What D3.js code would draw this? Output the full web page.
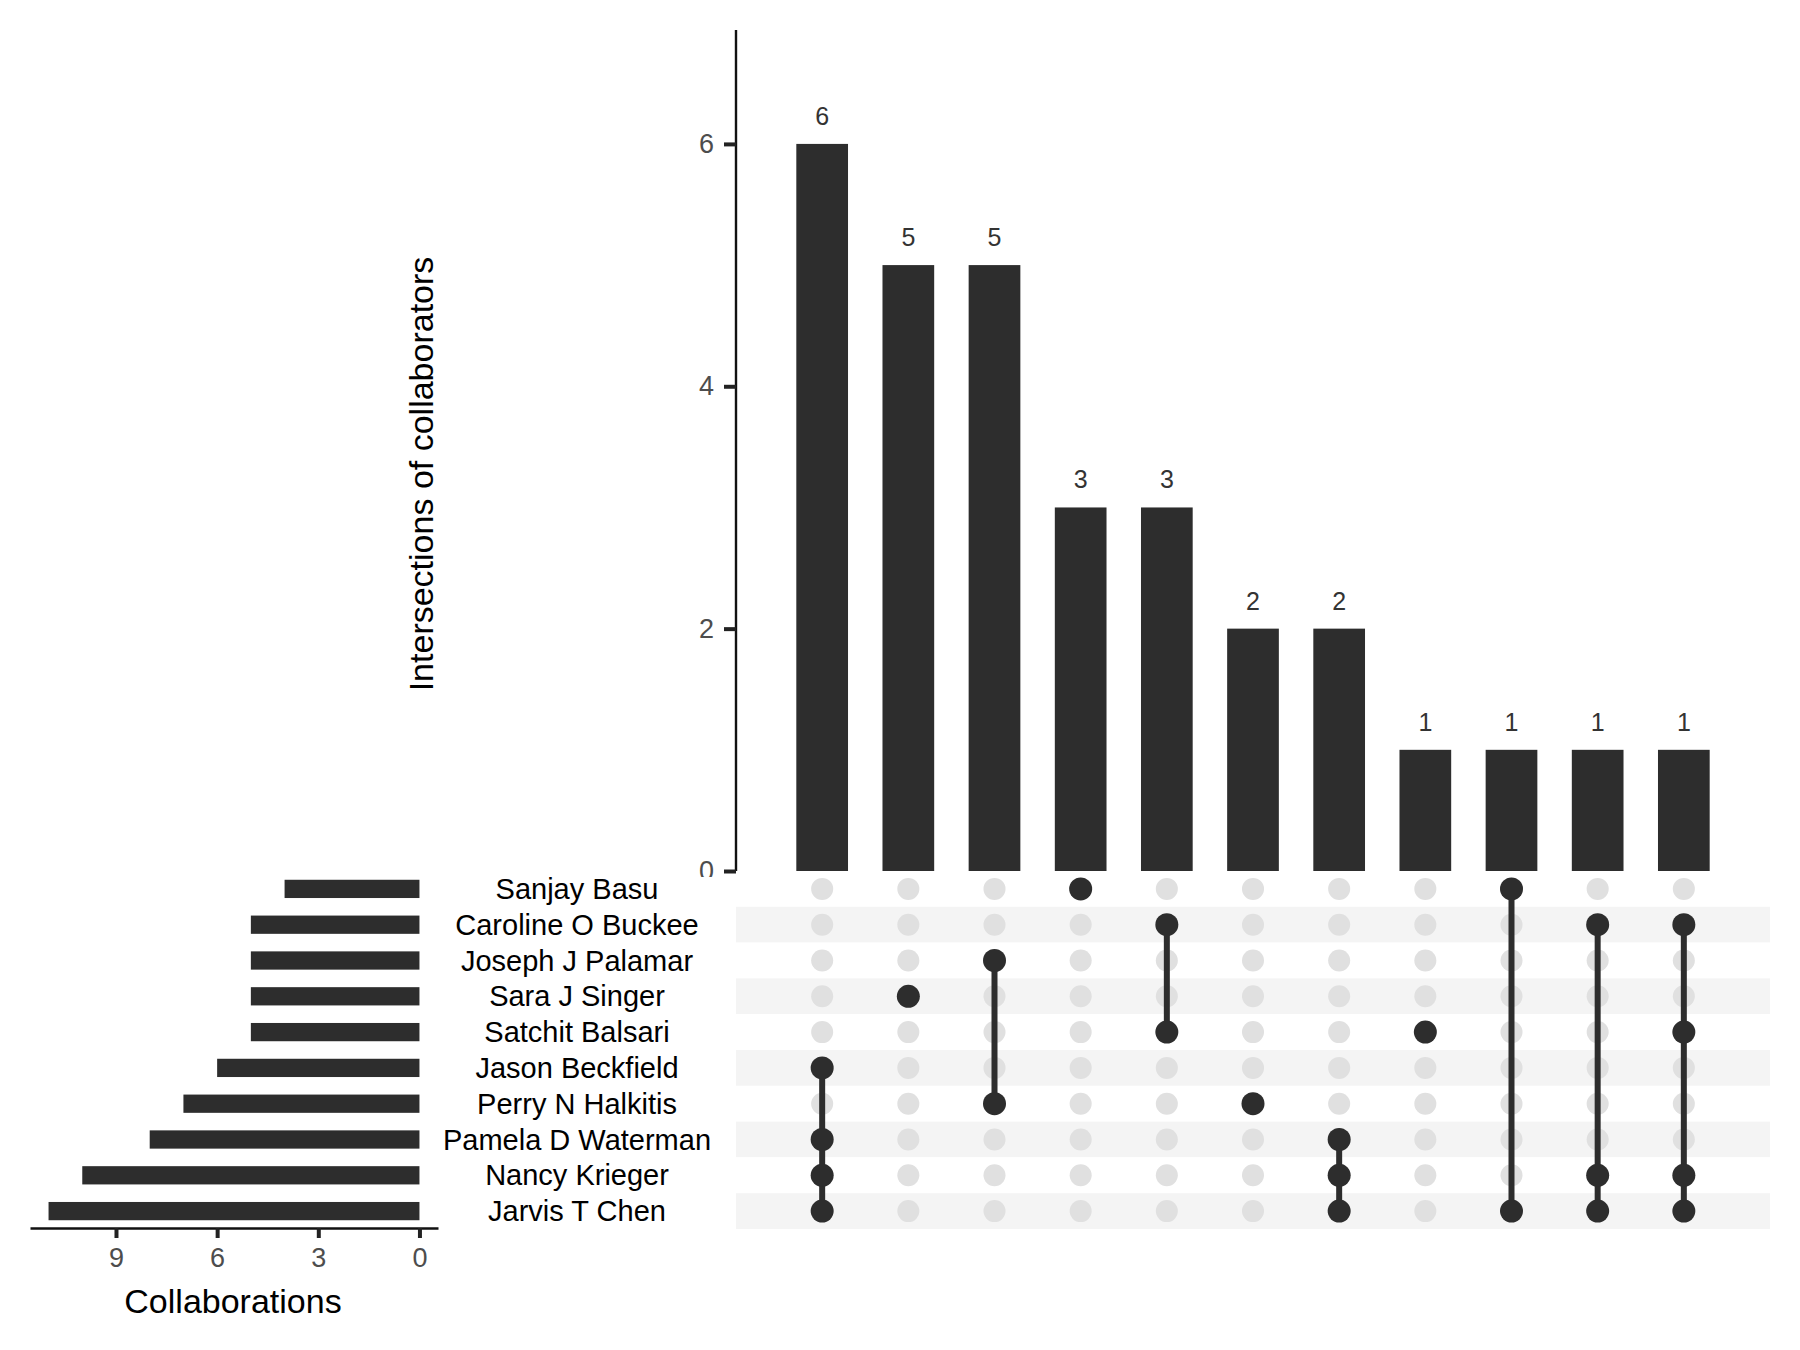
<!DOCTYPE html>
<html>
<head>
<meta charset="utf-8">
<script src="https://cdn.jsdelivr.net/npm/d3@7/dist/d3.min.js"></script>
<style>
  body { margin: 0; background: #fff; }
  svg text { font-family: "Liberation Sans", Arial, Helvetica, sans-serif; }
</style>
</head>
<body>
<svg id="chart" width="1800" height="1350"></svg>
<script>
// sets (rows of the matrix, top to bottom) and their sizes
const people = [
  "Sanjay Basu", "Caroline O Buckee", "Joseph J Palamar", "Sara J Singer",
  "Satchit Balsari", "Jason Beckfield", "Perry N Halkitis",
  "Pamela D Waterman", "Nancy Krieger", "Jarvis T Chen"
];
const collaborations = [4, 5, 5, 5, 5, 6, 7, 8, 10, 11];

// intersections (columns, left to right)
const intersectionSizes = [6, 5, 5, 3, 3, 2, 2, 1, 1, 1, 1];
const intersectionMembers = [
  ["Jason Beckfield", "Pamela D Waterman", "Nancy Krieger", "Jarvis T Chen"],
  ["Sara J Singer"],
  ["Joseph J Palamar", "Perry N Halkitis"],
  ["Sanjay Basu"],
  ["Caroline O Buckee", "Satchit Balsari"],
  ["Perry N Halkitis"],
  ["Pamela D Waterman", "Nancy Krieger", "Jarvis T Chen"],
  ["Satchit Balsari"],
  ["Sanjay Basu", "Jarvis T Chen"],
  ["Caroline O Buckee", "Nancy Krieger", "Jarvis T Chen"],
  ["Caroline O Buckee", "Satchit Balsari", "Nancy Krieger", "Jarvis T Chen"]
];

const topTicks = [0, 2, 4, 6];
const leftTicks = [0, 3, 6, 9];

const dark = "#2d2d2d";

const svg = d3.select("#chart");

// scales
const x = d3.scaleLinear().domain([0, intersectionSizes.length + 1]).range([736, 1770]);
const unit = x(1) - x(0);
const yTop = d3.scaleLinear().domain([0, 6.94]).range([871, 30]);
const yRow = d3.scaleBand().domain(people).range([871, 1229]).padding(0);
const xLeft = d3.scaleLinear().domain([11.55, -0.55]).range([30, 438]);

// ---- top bar chart ----
// the "0" label is half hidden by the matrix panel in the original
svg.append("defs").append("clipPath").attr("id", "topclip")
  .append("rect").attr("x", -800).attr("y", 0).attr("width", 2600).attr("height", 877);

const topAxis = svg.append("g")
  .attr("transform", `translate(${x(0)},0)`)
  .attr("clip-path", "url(#topclip)")
  .call(d3.axisLeft(yTop).tickValues(topTicks).tickSize(12).tickPadding(10).tickFormat(d3.format("d")));
topAxis.select(".domain").attr("d", `M0,${yTop(0) + 2}V${yTop(6.94)}`)
  .attr("stroke", "#111").attr("stroke-width", 2.4);
topAxis.selectAll(".tick line").attr("stroke", "#222").attr("stroke-width", 4);
topAxis.selectAll(".tick text")
  .attr("font-size", 27).attr("fill", "#4d4d4d").attr("font-family", "Liberation Sans, Arial, sans-serif");

svg.append("g").selectAll("rect")
  .data(intersectionSizes)
  .join("rect")
  .attr("x", (d, i) => x(i + 1) - unit * 0.3)
  .attr("width", unit * 0.6)
  .attr("y", d => yTop(d))
  .attr("height", d => yTop(0) - yTop(d))
  .attr("fill", dark);

svg.append("g").selectAll("text")
  .data(intersectionSizes)
  .join("text")
  .attr("x", (d, i) => x(i + 1))
  .attr("y", d => yTop(d) - 19)
  .attr("text-anchor", "middle")
  .attr("font-size", 25)
  .attr("fill", "#333")
  .text(d => d);

svg.append("text")
  .attr("transform", `translate(433,474) rotate(-90)`)
  .attr("text-anchor", "middle")
  .attr("font-size", 34)
  .attr("fill", "#000")
  .text("Intersections of collaborators");

// ---- matrix ----
const matrix = svg.append("g");
matrix.selectAll("rect.stripe")
  .data(people)
  .join("rect")
  .attr("class", "stripe")
  .attr("x", x(0))
  .attr("width", x(intersectionSizes.length + 1) - x(0))
  .attr("y", d => yRow(d))
  .attr("height", yRow.bandwidth())
  .attr("fill", (d, i) => i % 2 === 1 ? "#f4f4f4" : "#fff");

const cells = [];
intersectionSizes.forEach((s, i) => people.forEach(p => cells.push({ col: i, person: p })));
matrix.selectAll("circle.empty")
  .data(cells)
  .join("circle")
  .attr("class", "empty")
  .attr("cx", d => x(d.col + 1))
  .attr("cy", d => yRow(d.person) + yRow.bandwidth() / 2)
  .attr("r", 11)
  .attr("fill", "#e0e0e0");

matrix.selectAll("line.link")
  .data(intersectionMembers.map((m, i) => ({ col: i, rows: m.map(p => yRow(p) + yRow.bandwidth() / 2) }))
    .filter(d => d.rows.length > 1))
  .join("line")
  .attr("class", "link")
  .attr("x1", d => x(d.col + 1))
  .attr("x2", d => x(d.col + 1))
  .attr("y1", d => d3.min(d.rows))
  .attr("y2", d => d3.max(d.rows))
  .attr("stroke", dark)
  .attr("stroke-width", 6);

const filled = [];
intersectionMembers.forEach((m, i) => m.forEach(p => filled.push({ col: i, person: p })));
matrix.selectAll("circle.full")
  .data(filled)
  .join("circle")
  .attr("class", "full")
  .attr("cx", d => x(d.col + 1))
  .attr("cy", d => yRow(d.person) + yRow.bandwidth() / 2)
  .attr("r", 11.5)
  .attr("fill", dark);

// set names
svg.append("g").selectAll("text")
  .data(people)
  .join("text")
  .attr("x", 577)
  .attr("y", d => yRow(d) + yRow.bandwidth() / 2 + 10)
  .attr("text-anchor", "middle")
  .attr("font-size", 29)
  .attr("fill", "#000")
  .text(d => d);

// ---- left set size bars ----
svg.append("g").selectAll("rect")
  .data(collaborations)
  .join("rect")
  .attr("x", d => xLeft(d))
  .attr("width", d => xLeft(0) - xLeft(d))
  .attr("y", (d, i) => yRow(people[i]) + yRow.bandwidth() * 0.245)
  .attr("height", yRow.bandwidth() * 0.51)
  .attr("fill", dark);

const leftAxis = svg.append("g")
  .attr("transform", "translate(0,1228)")
  .call(d3.axisBottom(xLeft).tickValues(leftTicks).tickSize(10).tickPadding(10).tickSizeOuter(0));
leftAxis.select(".domain").attr("stroke", "#111").attr("stroke-width", 2.6);
leftAxis.selectAll(".tick line").attr("stroke", "#222").attr("stroke-width", 4);
leftAxis.selectAll(".tick text")
  .attr("font-size", 27).attr("fill", "#4d4d4d").attr("font-family", "Liberation Sans, Arial, sans-serif");

svg.append("text")
  .attr("x", 233)
  .attr("y", 1313)
  .attr("text-anchor", "middle")
  .attr("font-size", 34)
  .attr("fill", "#000")
  .text("Collaborations");
</script>
</body>
</html>
